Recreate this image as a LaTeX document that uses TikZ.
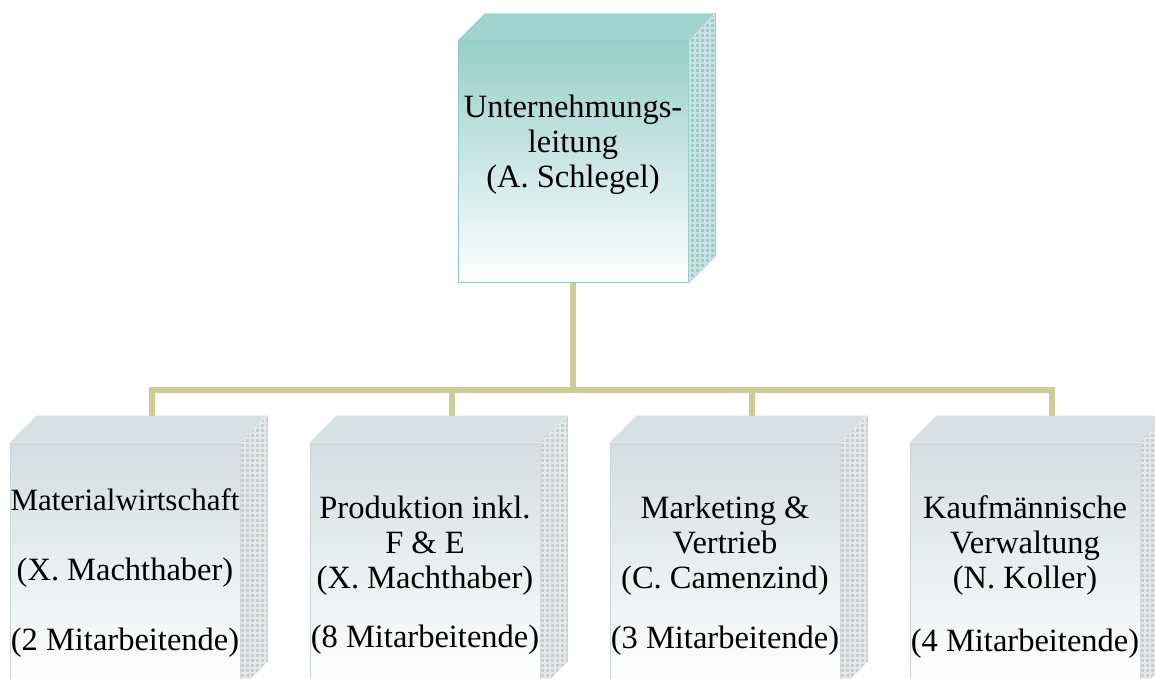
\documentclass[tikz,border=0pt]{standalone}
\usepackage{fontspec}
\setmainfont{Liberation Serif}
\usetikzlibrary{positioning,calc}
\definecolor{lead-front}{RGB}{152,206,202}
\definecolor{lead-edge}{RGB}{140,204,199}
\definecolor{lead-roof}{RGB}{160,211,207}
\definecolor{lead-side}{RGB}{158,203,199}
\definecolor{lead-grid}{RGB}{200,228,226}
\definecolor{dep-front}{RGB}{212,221,224}
\definecolor{dep-edge}{RGB}{203,214,217}
\definecolor{dep-roof}{RGB}{214,223,225}
\definecolor{dep-side}{RGB}{198,206,208}
\definecolor{dep-grid}{RGB}{228,232,233}
\definecolor{linecol}{RGB}{204,204,153}

\begin{document}
\begin{tikzpicture}[x=1pt,y=1pt,
  font=\fontsize{32.5}{35}\selectfont,
  front/.style={minimum width=230pt,inner sep=0pt,line width=1pt},
  leadbox/.style={front,minimum height=242pt,draw=lead-edge,
    top color=lead-front,middle color=lead-front!35,bottom color=white},
  deptbox/.style={front,minimum height=245pt,draw=dep-edge,
    top color=dep-front,middle color=dep-front!45,bottom color=white},
  boxtext/.style={align=center,inner sep=0pt},
  conn/.style={draw=linecol,line width=6.5pt}]
\useasboundingbox (0,0) rectangle (1155,678);

% boxes (front faces)
\node[leadbox] (lead) at (573,516) {};
\node[deptbox] (mat) at (125,112.5) {};
\node[deptbox,right=69pt of mat] (prod) {};
\node[deptbox,right=69pt of prod] (mark) {};
\node[deptbox,right=69pt of mark] (kauf) {};

% roof and side of every box
\foreach \b/\c in {lead/lead,mat/dep,prod/dep,mark/dep,kauf/dep}{
  \fill[\c-roof] (\b.north west) -- ++(27,27) -- ++(230,0) -- (\b.north east) -- cycle;
  \fill[\c-side] (\b.north east) -- ++(27,27) -- ($(\b.south east)+(27,27)$) -- (\b.south east) -- cycle;
  \begin{scope}
    \clip (\b.north east) -- ++(27,27) -- ($(\b.south east)+(27,27)$) -- (\b.south east) -- cycle;
    \draw[\c-grid,line width=1.1pt,step=5] ($(\b.south east)+(-5,-5)$) grid ($(\b.north east)+(33,33)$);
  \end{scope}
  \draw[\c-edge,line width=1pt] ($(\b.north east)+(27,27)$) -- ($(\b.south east)+(27,27)$);
}

% texts
\node[boxtext,below=54pt of lead.north] (lead-txt) {Unternehmungs-\\leitung\\(A. Schlegel)};
\node[boxtext,below=46pt of mat.north] (mat-txt) {{\fontsize{31}{35}\selectfont Materialwirtschaft}\\[35pt](X. Machthaber)\\[35pt](2 Mitarbeitende)};
\node[boxtext,below=53pt of prod.north] (prod-txt) {Produktion inkl.\\F \& E\\(X. Machthaber)\\[24pt](8 Mitarbeitende)};
\node[boxtext,below=53pt of mark.north] (mark-txt) {Marketing \&\\Vertrieb\\(C. Camenzind)\\[25pt](3 Mitarbeitende)};
\node[boxtext,below=53pt of kauf.north] (kauf-txt) {Kaufmännische\\Verwaltung\\(N. Koller)\\[28pt](4 Mitarbeitende)};

% connectors
\coordinate (bus) at (0,288);
\foreach \d in {mat,prod,mark,kauf}{
  \coordinate (\d-top) at ($(\d.north)+(27,27)$);
  \draw[conn] (lead.south) |- (\d-top |- bus) -- (\d-top);
}
\end{tikzpicture}
\end{document}
